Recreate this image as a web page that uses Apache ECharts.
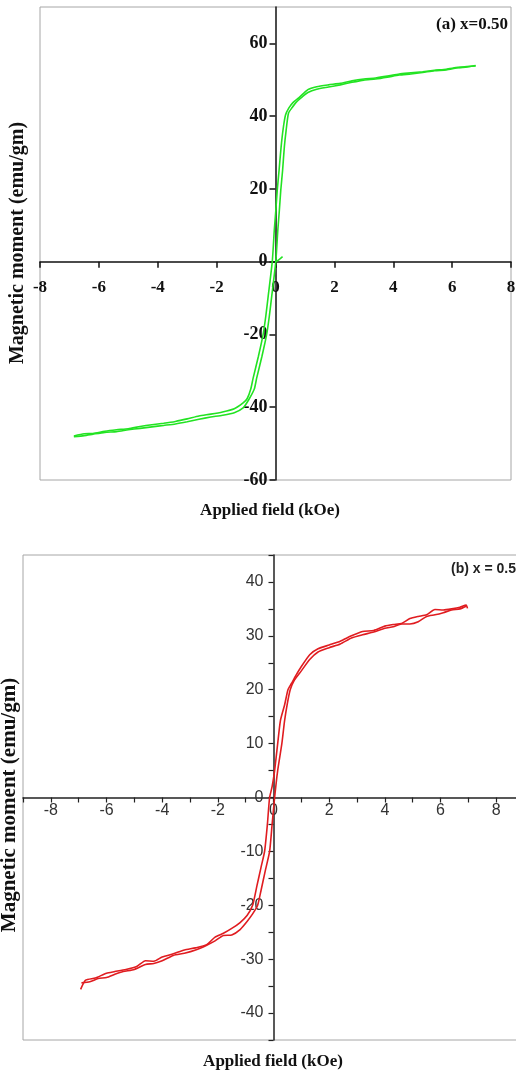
<!DOCTYPE html>
<html>
<head>
<meta charset="utf-8">
<script src="https://cdn.jsdelivr.net/npm/echarts@6.0.0/dist/echarts.min.js"></script>
<style>
  html, body { margin: 0; padding: 0; background: #fff; }
  #chart { width: 516px; height: 1075px; }
</style>
</head>
<body>
<div id="chart"></div>
<script>
// panel (a) x=0.50, green loop
var fieldDownA = [6.8, 6.5, 6.2, 5.8, 5.4, 5.0, 4.6, 4.2, 3.8, 3.4, 3.0, 2.6, 2.2, 1.8, 1.4, 1.1, 0.79, 0.6, 0.45, 0.34, 0.26, 0.19, 0.12, 0.06, 0.01, -0.04, -0.11, -0.25, -0.33, -0.42, -0.58, -0.76, -0.84, -0.96, -1.1, -1.4, -1.8, -2.2, -2.6, -3.0, -3.4, -3.8, -4.2, -4.6, -5.0, -5.4, -5.8, -6.2, -6.5, -6.85];
var momentDownA = [53.8, 53.6, 53.4, 52.9, 52.6, 52.2, 51.9, 51.6, 51.0, 50.5, 50.2, 49.7, 49.0, 48.6, 48.1, 47.3, 45.0, 43.8, 42.2, 40.3, 36.5, 31.5, 25.0, 19.7, 14.0, 8.8, 0.0, -9.6, -15.0, -20.0, -26.0, -32.0, -35.0, -37.6, -38.8, -40.4, -41.3, -41.9, -42.4, -43.2, -43.9, -44.4, -44.8, -45.3, -45.9, -46.2, -46.6, -47.2, -47.3, -47.9];
var fieldUpA = [-6.85, -6.5, -6.2, -5.8, -5.4, -5.0, -4.6, -4.2, -3.8, -3.4, -3.0, -2.6, -2.2, -1.8, -1.4, -1.1, -0.9, -0.72, -0.64, -0.46, -0.3, -0.21, -0.13, 0.01, 0.08, 0.13, 0.18, 0.24, 0.3, 0.36, 0.44, 0.56, 0.7, 0.91, 1.1, 1.4, 1.8, 2.2, 2.6, 3.0, 3.4, 3.8, 4.2, 4.6, 5.0, 5.4, 5.8, 6.2, 6.5, 6.8];
var momentUpA = [-48.1, -47.8, -47.4, -46.9, -46.7, -46.2, -45.8, -45.4, -45.0, -44.6, -44.0, -43.3, -42.7, -42.2, -41.5, -40.2, -37.8, -35.0, -32.0, -26.0, -20.0, -15.0, -9.6, 0.0, 8.8, 14.0, 19.7, 25.0, 31.5, 36.0, 40.8, 42.3, 43.8, 45.3, 46.5, 47.4, 48.0, 48.6, 49.3, 49.9, 50.2, 50.7, 51.3, 51.6, 52.0, 52.5, 52.7, 53.3, 53.5, 53.9];
var fieldInitA = [0.02, 0.12, 0.24];
var momentInitA = [0.0, 0.6, 1.4];
var xTicksA = [-8, -6, -4, -2, 0, 2, 4, 6, 8];
var yTicksA = [-60, -40, -20, 0, 20, 40, 60];

// panel (b) x = 0.50, red loop
var fieldDownB = [6.97, 6.92, 6.7, 6.4, 6.1, 5.8, 5.5, 5.2, 4.9, 4.6, 4.3, 4.0, 3.6, 3.2, 2.8, 2.4, 2.0, 1.6, 1.3, 1.0, 0.8, 0.65, 0.52, 0.4, 0.25, 0.15, 0.04, -0.05, -0.14, -0.22, -0.32, -0.45, -0.6, -0.75, -0.95, -1.2, -1.5, -1.8, -2.1, -2.4, -2.8, -3.2, -3.6, -4.0, -4.3, -4.6, -4.9, -5.3, -5.7, -6.0, -6.4, -6.75, -6.93];
var momentDownB = [35.1, 35.7, 35.3, 35.0, 34.8, 34.9, 33.9, 33.6, 33.2, 32.3, 32.1, 31.8, 31.0, 30.8, 30.0, 29.0, 28.3, 27.6, 26.5, 24.3, 22.6, 21.2, 20.0, 17.2, 14.3, 10.0, 5.0, 2.0, 0.0, -5.0, -10.0, -13.0, -16.5, -20.0, -21.9, -23.2, -24.3, -25.2, -25.9, -27.3, -27.9, -28.3, -29.0, -29.6, -30.4, -30.3, -31.3, -31.9, -32.3, -32.6, -33.5, -33.9, -35.6];
var fieldUpB = [-6.9, -6.6, -6.3, -6.0, -5.7, -5.4, -5.0, -4.6, -4.3, -4.0, -3.6, -3.2, -2.8, -2.4, -2.1, -1.8, -1.5, -1.2, -0.95, -0.75, -0.57, -0.45, -0.3, -0.14, -0.05, 0.04, 0.15, 0.3, 0.4, 0.5, 0.6, 0.75, 1.0, 1.3, 1.6, 2.0, 2.4, 2.8, 3.2, 3.6, 4.0, 4.3, 4.6, 4.9, 5.2, 5.5, 5.8, 6.1, 6.4, 6.7, 6.92];
var momentUpB = [-34.4, -34.2, -33.6, -33.4, -32.8, -32.3, -31.9, -31.0, -30.8, -30.3, -29.3, -28.9, -28.3, -27.4, -26.6, -25.6, -25.5, -24.5, -23.0, -21.6, -20.0, -17.3, -13.7, -10.0, -5.0, 0.0, 5.0, 10.0, 14.3, 17.5, 20.0, 21.8, 23.5, 25.6, 27.0, 27.8, 28.5, 29.6, 30.2, 30.7, 31.4, 31.7, 32.2, 32.2, 32.6, 33.6, 33.9, 34.3, 34.8, 35.0, 35.5];
var xTicksB = [-8, -6, -4, -2, 0, 2, 4, 6, 8];
var yTicksB = [-40, -30, -20, -10, 0, 10, 20, 30, 40];

function pairs(xs, ys) {
  return xs.map(function (x, i) { return [x, ys[i]]; });
}

var serifBold = 'bold 17px "Liberation Serif"';
var green = "#22e322";
var red = "#e01c20";

// grid boxes and axis ranges
var W = 516;
var gridA = { left: 40, width: 471, top: 7, height: 473 };
var rangeXA = [-8, 8], rangeYA = [-60, 70];
var gridB = { left: 23, width: 501, top: 555, height: 485 };
var rangeXB = [-9, 9], rangeYB = [-45, 45];

// the axes cross at zero: move the whole axis (line, ticks, labels) inside the box
function xOffset(grid, ry) {
  var zeroY = grid.top + grid.height * ry[1] / (ry[1] - ry[0]);
  return -(grid.top + grid.height - zeroY);
}
function yOffset(grid, rx) {
  return -(grid.width * (0 - rx[0]) / (rx[1] - rx[0]));
}

function loopSeries(data, color, idx) {
  return {
    type: "line",
    xAxisIndex: idx,
    yAxisIndex: idx,
    data: data,
    symbol: "none",
    smooth: 0.2,
    silent: true,
    lineStyle: { color: color, width: 1.6 }
  };
}

var chart = echarts.init(document.getElementById("chart"), null, { renderer: "canvas" });

chart.setOption({
  backgroundColor: "#fff",
  animation: false,
  grid: [
    { left: gridA.left, width: gridA.width, top: gridA.top, height: gridA.height, show: true, borderColor: "#a6a6a6", borderWidth: 1, outerBoundsMode: "none" },
    { left: gridB.left, width: gridB.width, top: gridB.top, height: gridB.height, show: true, borderColor: "#a6a6a6", borderWidth: 1, outerBoundsMode: "none" }
  ],
  xAxis: [
    {
      type: "value", gridIndex: 0, min: rangeXA[0], max: rangeXA[1], interval: 2,
      position: "bottom", offset: xOffset(gridA, rangeYA),
      splitLine: { show: false },
      axisLine: { onZero: false, lineStyle: { color: "#111", width: 1.5 } },
      axisTick: { length: 6, customValues: xTicksA, lineStyle: { color: "#111", width: 1.5 } },
      axisLabel: {
        customValues: xTicksA, margin: 17, color: "#111",
        fontFamily: "Liberation Serif", fontWeight: "bold", fontSize: 17
      }
    },
    {
      type: "value", gridIndex: 1, min: rangeXB[0], max: rangeXB[1], interval: 1,
      position: "bottom", offset: xOffset(gridB, rangeYB),
      splitLine: { show: false },
      axisLine: { onZero: false, lineStyle: { color: "#222", width: 1.5 } },
      axisTick: { length: 5, lineStyle: { color: "#222", width: 1.2 } },
      axisLabel: {
        customValues: xTicksB, margin: 5, color: "#333",
        fontFamily: "Liberation Sans", fontSize: 16,
        formatter: function (v) { return xTicksB.indexOf(v) >= 0 ? String(v) : ""; }
      }
    }
  ],
  yAxis: [
    {
      type: "value", gridIndex: 0, min: rangeYA[0], max: rangeYA[1], interval: 20,
      position: "left", offset: yOffset(gridA, rangeXA),
      splitLine: { show: false },
      axisLine: { onZero: false, lineStyle: { color: "#111", width: 1.5 } },
      axisTick: { length: 6, customValues: yTicksA, lineStyle: { color: "#111", width: 1.5 } },
      axisLabel: {
        customValues: yTicksA, margin: 8, color: "#111",
        fontFamily: "Liberation Serif", fontWeight: "bold", fontSize: 18,
        formatter: function (v) { return yTicksA.indexOf(v) >= 0 ? String(v) : ""; }
      }
    },
    {
      type: "value", gridIndex: 1, min: rangeYB[0], max: rangeYB[1], interval: 5,
      position: "left", offset: yOffset(gridB, rangeXB),
      splitLine: { show: false },
      axisLine: { onZero: false, lineStyle: { color: "#222", width: 1.5 } },
      axisTick: { length: 5, lineStyle: { color: "#222", width: 1.2 } },
      axisLabel: {
        customValues: yTicksB, margin: 10, color: "#333",
        fontFamily: "Liberation Sans", fontSize: 16,
        formatter: function (v) { return yTicksB.indexOf(v) >= 0 ? String(v) : ""; }
      }
    }
  ],
  series: [
    loopSeries(pairs(fieldDownA, momentDownA), green, 0),
    loopSeries(pairs(fieldUpA, momentUpA), green, 0),
    loopSeries(pairs(fieldInitA, momentInitA), green, 0),
    loopSeries(pairs(fieldDownB, momentDownB), red, 1),
    loopSeries(pairs(fieldUpB, momentUpB), red, 1)
  ],
  graphic: [
    {
      type: "text", x: 508, y: 25,
      style: { text: "(a) x=0.50", font: serifBold, fill: "#111", align: "right", verticalAlign: "middle" }
    },
    {
      type: "text", x: 270, y: 511,
      style: { text: "Applied field (kOe)", font: serifBold, fill: "#111", align: "center", verticalAlign: "middle" }
    },
    {
      type: "text", x: 18, y: 243, rotation: Math.PI / 2,
      style: { text: "Magnetic moment (emu/gm)", font: 'bold 20px "Liberation Serif"', fill: "#111", align: "center", verticalAlign: "middle" }
    },
    {
      type: "text", x: 451, y: 569,
      style: { text: "(b) x = 0.50", font: 'bold 14px "Liberation Sans"', fill: "#222", align: "left", verticalAlign: "middle" }
    },
    {
      type: "text", x: 273, y: 1062,
      style: { text: "Applied field (kOe)", font: serifBold, fill: "#111", align: "center", verticalAlign: "middle" }
    },
    {
      type: "text", x: 10, y: 805, rotation: Math.PI / 2,
      style: { text: "Magnetic moment (emu/gm)", font: 'bold 21px "Liberation Serif"', fill: "#111", align: "center", verticalAlign: "middle" }
    }
  ]
});
</script>
</body>
</html>
